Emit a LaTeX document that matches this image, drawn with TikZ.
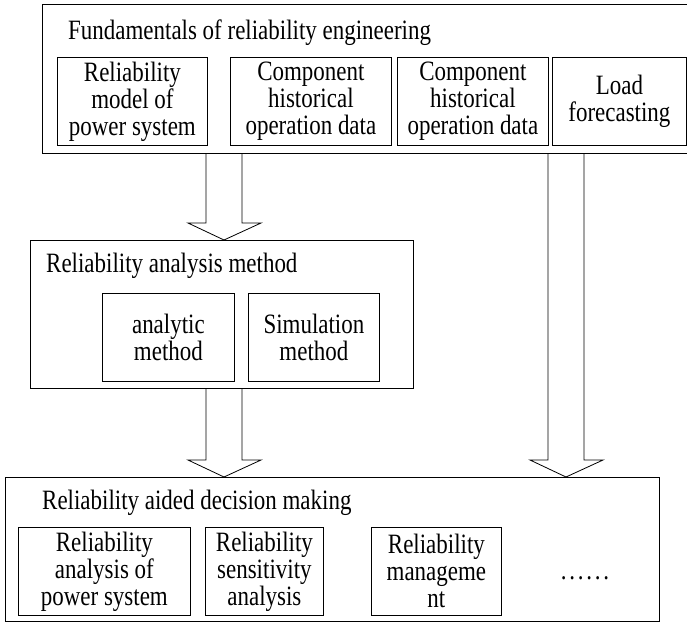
\documentclass[tikz,border=0pt]{standalone}
\usepackage{fontspec}
\setmainfont{Liberation Serif}[FakeStretch=0.82]
\usetikzlibrary{positioning}
\usetikzlibrary{calc}

\tikzset{
  outerbox/.style={draw, line width=0.8pt, anchor=north west, inner sep=0pt},
  innerbox/.style={draw, line width=0.8pt, anchor=north west, inner sep=0pt, align=center, font=\fontsize{28}{27}\selectfont},
  boxtitle/.style={anchor=west, inner sep=0pt, font=\fontsize{28}{27}\selectfont},
  hollow/.style={draw, line width=0.8pt, line join=miter}
}

% hollow block arrow: #1 start of shaft, #2 tip
\newcommand{\hollowarrow}[2]{%
  \path[hollow] let \p1 = (#1), \p2 = (#2) in
    (\x1-18pt, \y1) -- (\x1-18pt, \y2+17pt) -- (\x1-36pt, \y2+17pt) -- (\x1, \y2)
    -- (\x1+37pt, \y2+17pt) -- (\x1+18pt, \y2+17pt) -- (\x1+18pt, \y1);}

\begin{document}
\begin{tikzpicture}[x=1pt, y=-1pt]
    \useasboundingbox (0, 0) rectangle (687, 624);
    % top level
    \node[outerbox, minimum width=647pt, minimum height=149pt] (fundbox) at (42, 4) {};
    \node[boxtitle] (fundtitle) at (68, 33) {Fundamentals of reliability engineering};
    \node[innerbox, minimum width=150pt, minimum height=88pt] (relmodel) at (57, 57) {Reliability\\model of\\power system};
    \node[innerbox, minimum width=161pt, minimum height=88pt] (comphistA) at (230, 57) {Component\\historical\\operation data};
    \node[innerbox, minimum width=151pt, minimum height=88pt] (comphistB) at (397, 57) {Component\\historical\\operation data};
    \node[innerbox, minimum width=134pt, minimum height=88pt] (loadfc) at (552, 57) {Load\\forecasting};
    % analysis methods
    \node[outerbox, minimum width=383pt, minimum height=148pt] (methbox) at (30, 240) {};
    \node[boxtitle] (methtitle) at (46, 266) {Reliability analysis method};
    \node[innerbox, minimum width=132pt, minimum height=88pt] (analytic) at (102, 293) {analytic\\method};
    \node[innerbox, minimum width=131pt, minimum height=88pt] (simul) at (248, 293) {Simulation\\method};
    % decision making
    \node[outerbox, minimum width=654pt, minimum height=144pt] (decbox) at (5, 477) {};
    \node[boxtitle] (dectitle) at (42, 503) {Reliability aided decision making};
    \node[innerbox, minimum width=172pt, minimum height=88pt] (relanal) at (18, 527) {Reliability\\analysis of\\power system};
    \node[innerbox, minimum width=118pt, minimum height=88pt] (relsens) at (205, 527) {Reliability\\sensitivity\\analysis};
    \node[innerbox, minimum width=130pt, minimum height=88pt] (relmgmt) at (371, 527) {Reliability\\manageme\\nt};
    \node[boxtitle, anchor=center, font=\fontsize{28}{27}\selectfont\addfontfeature{LetterSpace=10}] (moredots) at (585, 578) {......};
    % arrows
    \coordinate (arrA) at (fundbox.south -| 224, 0);
    \coordinate (arrB) at (methbox.south -| 224, 0);
    \coordinate (arrC) at (fundbox.south -| 566, 0);
    \hollowarrow{arrA}{arrA |- methbox.north}
    \hollowarrow{arrB}{arrB |- decbox.north}
    \hollowarrow{arrC}{arrC |- decbox.north}
\end{tikzpicture}
\end{document}
